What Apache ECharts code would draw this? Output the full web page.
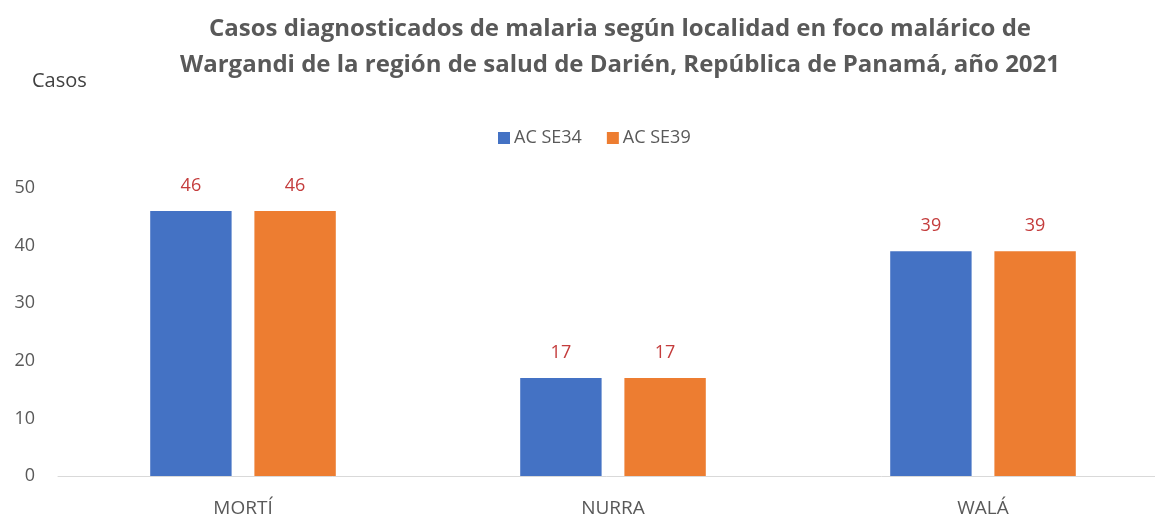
<!DOCTYPE html>
<html lang="es">
<head>
  <meta charset="UTF-8">
  <title>Casos de malaria - Wargandi 2021</title>
  <script src="https://cdn.jsdelivr.net/npm/echarts@6/dist/echarts.min.js"></script>
  <style>
    html, body { margin: 0; padding: 0; background: #fff; }
    #chart { width: 1155px; height: 515px; }
  </style>
</head>
<body>
<div id="chart"></div>
<script>
  // data
  const localidades = ['MORTÍ', 'NURRA', 'WALÁ'];
  const se34 = [46, 17, 39];
  const se39 = [46, 17, 39];
  const yTicks = [0, 10, 20, 30, 40, 50];

  const font = '"Open Sans", "Noto Sans", sans-serif';
  let chart = echarts.init(document.getElementById('chart'));

  let labelCfg = {
    show: true,
    position: 'top',
    distance: 16,
    color: '#c43c3c',
    fontSize: 18,
    fontFamily: font
  };

  chart.setOption({
    animation: false,
    title: [{
      text: 'Casos diagnosticados de malaria según localidad en foco malárico de\nWargandi de la región de salud de Darién, República de Panamá, año 2021',
      left: 615,
      textAlign: 'center',
      top: 6,
      textStyle: {
        color: '#595959',
        fontSize: 24,
        fontWeight: 'bold',
        lineHeight: 36,
        fontFamily: font
      }
    }, {
      text: 'Casos',
      left: 27,
      top: 66,
      textStyle: {color: '#404040', fontSize: 20, fontWeight: 'normal', fontFamily: font}
    }],
    legend: {
      data: ['AC SE34', 'AC SE39'],
      left: 493,
      top: 124,
      itemWidth: 12,
      itemHeight: 12,
      itemGap: 25,
      icon: 'rect',
      textStyle: {color: '#595959', fontSize: 18, fontFamily: font, padding: [0, 0, 0, -1]}
    },
    grid: {
      left: 58,
      top: 188,
      width: 1110,
      height: 288,
      outerBoundsMode: 'none',
      containLabel: false
    },
    xAxis: {
      type: 'category',
      data: localidades,
      axisLine: {lineStyle: {color: '#d9d9d9', width: 1}},
      axisTick: {show: false},
      axisLabel: {color: '#595959', fontSize: 19, margin: 23, fontFamily: font}
    },
    yAxis: {
      type: 'value',
      min: yTicks[0],
      max: yTicks[yTicks.length - 1],
      interval: 10,
      splitLine: {show: false},
      axisLine: {show: false},
      axisTick: {show: false},
      axisLabel: {color: '#595959', fontSize: 18, margin: 23, fontFamily: font}
    },
    series: [{
      name: 'AC SE34',
      type: 'bar',
      data: se34,
      barWidth: '22%',
      barGap: '28%',
      itemStyle: {color: '#4472c4'},
      label: labelCfg
    }, {
      name: 'AC SE39',
      type: 'bar',
      data: se39,
      barWidth: '22%',
      barGap: '28%',
      itemStyle: {color: '#ed7d31'},
      label: labelCfg
    }]
  });
</script>
</body>
</html>
